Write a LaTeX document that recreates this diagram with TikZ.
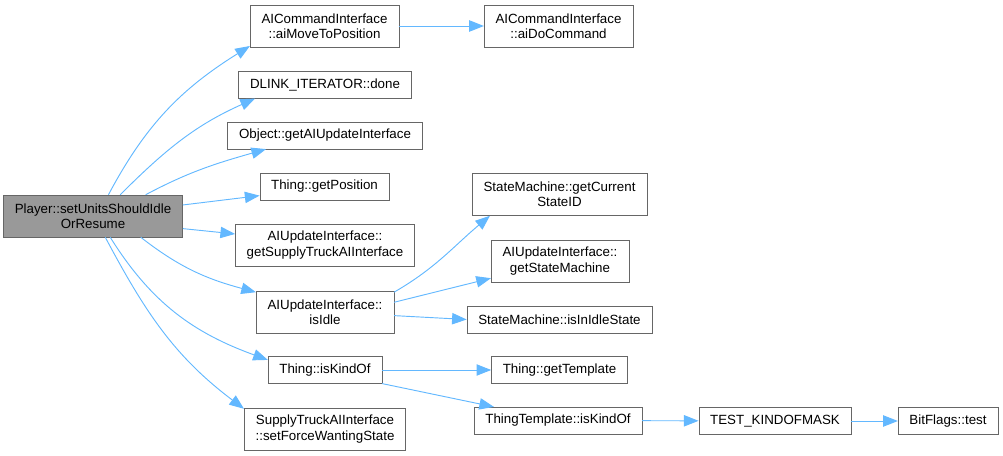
\documentclass[tikz,border=0pt]{standalone}
\usepackage{fontspec}
\setmainfont{Liberation Sans}
\usetikzlibrary{arrows.meta,positioning}
\definecolor{kantblaa}{HTML}{63B8FF}
\definecolor{kantgraa}{HTML}{666666}
\definecolor{rodgraa}{HTML}{999999}
\tikzset{
  fn/.style={draw=kantgraa, fill=white, align=center, inner xsep=8.5pt, inner ysep=2pt,
    minimum height=20pt, font=\fontsize{10}{11.5}\selectfont},
  fn2/.style={fn, minimum height=31.5pt},
  rod/.style={fn2, fill=rodgraa},
  kald/.style={draw=kantblaa, line width=0.7pt, -{Triangle[length=11pt,width=8.5pt]}}
}

\begin{document}
\begin{tikzpicture}[x=0.75pt,y=-0.75pt]
    \useasboundingbox (0,0) rectangle (1003,456);
    % Rodnode
    \node[rod] (root) at (93,216) {Player::setUnitsShouldIdle\\OrResume};
    % Forste kolonne af kaldte funktioner
    \node[fn2] (aimove) at (324.5,26) {AICommandInterface\\::aiMoveToPosition};
    \node[fn] (dlink) at (325,85) {DLINK\_ITERATOR::done};
    \node[fn] (getai) at (325,135.5) {Object::getAIUpdateInterface};
    \node[fn] (getpos) at (324.5,186.5) {Thing::getPosition};
    \node[fn2] (getst) at (325,245) {AIUpdateInterface::\\getSupplyTruckAIInterface};
    \node[fn2] (isidle) at (325,312) {AIUpdateInterface::\\isIdle};
    \node[fn] (iskind) at (325,370) {Thing::isKindOf};
    \node[fn2] (setforce) at (325,429) {SupplyTruckAIInterface\\::setForceWantingState};
    % Anden kolonne
    \node[fn2] (aido) at (558.5,26) {AICommandInterface\\::aiDoCommand};
    \node[fn2] (getcur) at (559.5,194.5) {StateMachine::getCurrent\\StateID};
    \node[fn2] (getsm) at (560,261) {AIUpdateInterface::\\getStateMachine};
    \node[fn] (inidle) at (559.5,319.5) {StateMachine::isInIdleState};
    \node[fn] (gettpl) at (559.5,370) {Thing::getTemplate};
    \node[fn] (tplkind) at (558,420.5) {ThingTemplate::isKindOf};
    % Tredje og fjerde kolonne
    \node[fn] (mask) at (775,421) {TEST\_KINDOFMASK};
    \node[fn] (bittest) at (948,421) {BitFlags::test};
    % Kald fra rodnoden
    \draw[kald] (root.54) to[out=62,in=212] (aimove.195);
    \draw[kald] (root.38) to[out=45,in=204] (dlink.191);
    \draw[kald] (root.22) to[out=28,in=196] (getai.193);
    \draw[kald] (root.7) -- (getpos.188);
    \draw[kald] (root.-8) -- (getst.173);
    \draw[kald] (root.-24) to[out=-38,in=165] (isidle.164);
    \draw[kald] (root.-51) to[out=-58,in=160] (iskind.170);
    \draw[kald] (root.-60) to[out=-62,in=143] (setforce.166);
    % Videre kald
    \draw[kald] (isidle.16) to[out=30,in=220] (getcur.197);
    \draw[kald] (isidle.8) -- (getsm.194);
    \draw[kald] (isidle.-3) -- (inidle.west);
    \draw[kald] (iskind.south east) -- (tplkind.168);
    \foreach \fra/\til in {aimove/aido, iskind/gettpl, tplkind/mask, mask/bittest}
      \draw[kald] (\fra) -- (\til);
\end{tikzpicture}
\end{document}
